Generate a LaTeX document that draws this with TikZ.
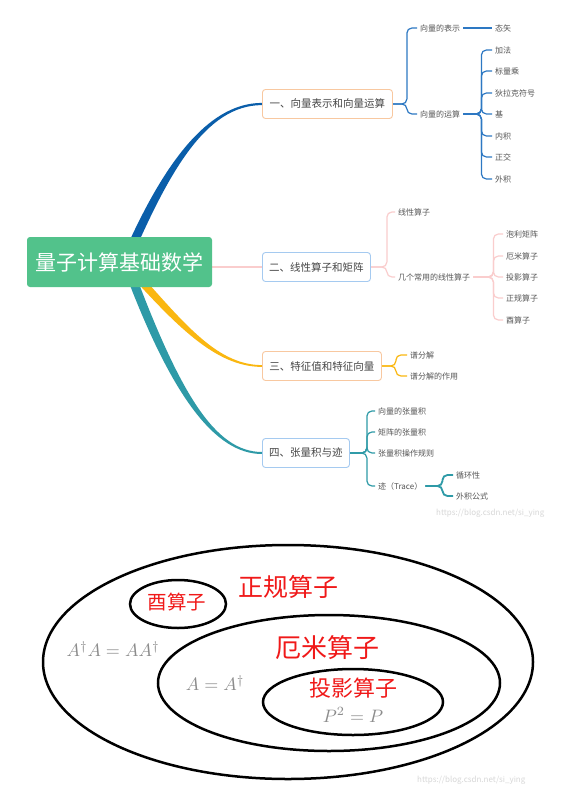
\documentclass[tikz,border=0pt]{standalone}
\usepackage{fontspec}
\setmainfont{Noto Sans CJK SC}
\usetikzlibrary{calc}
\pgfdeclarelayer{bg}
\pgfsetlayers{bg,main}

\definecolor{rootgreen}{RGB}{82,194,139}
\definecolor{mainblue}{RGB}{10,94,170}
\definecolor{subblue}{RGB}{45,120,195}
\definecolor{mainpink}{RGB}{250,205,205}
\definecolor{mainyellow}{RGB}{250,183,16}
\definecolor{mainteal}{RGB}{46,154,167}
\definecolor{peach}{RGB}{248,200,160}
\definecolor{paleblue}{RGB}{165,202,240}
\definecolor{labelgray}{RGB}{70,70,70}
\definecolor{leafgray}{RGB}{85,85,85}
\definecolor{mathgray}{RGB}{140,140,140}
\definecolor{venred}{RGB}{240,25,25}
\definecolor{wmgray}{RGB}{215,215,215}

% tapered main branch: colour, start, control 1, control 2, end, start half-width, end half-width
\newcommand\taperbranch[7]{%
  \fill[#1] ($(#2)!#6!90:(#3)$)
    .. controls ($(#3)!#6!-90:(#2)$) and ($(#4)!#7!90:(#5)$) .. ($(#5)!#7!-90:(#4)$)
    -- ($(#5)!#7!90:(#4)$)
    .. controls ($(#4)!#7!-90:(#5)$) and ($(#3)!#6!90:(#2)$) .. ($(#2)!#6!-90:(#3)$)
    -- cycle;}

\tikzset{
  rootbox/.style={fill=rootgreen, rounded corners=3pt, text=white,
    font=\fontsize{21}{24}\selectfont, minimum width=185pt, minimum height=50pt, inner sep=0pt},
  topic/.style={draw=#1, fill=white, rounded corners=3pt, line width=0.9pt,
    font=\fontsize{10.5}{12}\selectfont, text=labelgray, minimum height=29pt,
    inner xsep=6pt, anchor=west},
  leaf/.style={font=\fontsize{8}{9}\selectfont, text=leafgray, inner xsep=3pt, inner ysep=2pt, anchor=west},
  sub/.style={line width=1.2pt, rounded corners=5pt},
  venn/.style={line width=2.5pt, black},
  redlabel/.style={text=venred},
  mathlabel/.style={text=mathgray, scale=1.8},
  watermark/.style={text=wmgray, font=\fontsize{8}{9}\selectfont, anchor=west, inner sep=0pt}
}

\begin{document}
\begin{tikzpicture}[x=1pt, y=-1pt]
\begin{pgfonlayer}{bg}
  \fill[white] (0,0) rectangle (566,789);
\end{pgfonlayer}
\useasboundingbox (0,0) rectangle (566,789);

% ---------- mind map ----------
\node[rootbox] (root) at (119.5,262) {量子计算基础数学};

\node[topic=peach, minimum width=130pt] (b1) at (262,104) {一、向量表示和向量运算};
\node[topic=paleblue, minimum width=108pt] (b2) at (262,267) {二、线性算子和矩阵};
\node[topic=peach, minimum width=119pt] (b3) at (262,366) {三、特征值和特征向量};
\node[topic=paleblue, minimum width=87pt] (b4) at (262,453) {四、张量积与迹};

\coordinate (o1) at (125,262);
\coordinate (o3) at (124,262);
\coordinate (o4) at (126,262);

% branch 1 leaves
\node[leaf] (v1) at (417,28) {向量的表示};
\node[leaf] (v2) at (417,114) {向量的运算};
\node[leaf] (v11) at (492,28) {态矢};
\node[leaf] (v21) at (492,50) {加法};
\node[leaf] (v22) at (492,71) {标量乘};
\node[leaf] (v23) at (492,93) {狄拉克符号};
\node[leaf] (v24) at (492,114) {基};
\node[leaf] (v25) at (492,136) {内积};
\node[leaf] (v26) at (492,157) {正交};
\node[leaf] (v27) at (492,179) {外积};

% branch 2 leaves
\node[leaf] (l1) at (395,212) {线性算子};
\node[leaf] (l2) at (395,277) {几个常用的线性算子};
\node[leaf] (l21) at (503,234) {泡利矩阵};
\node[leaf] (l22) at (503,256) {厄米算子};
\node[leaf] (l23) at (503,277) {投影算子};
\node[leaf] (l24) at (503,298) {正规算子};
\node[leaf] (l25) at (503,320) {酉算子};

% branch 3 leaves
\node[leaf] (e1) at (407,355) {谱分解};
\node[leaf] (e2) at (407,376) {谱分解的作用};

% branch 4 leaves
\node[leaf] (t1) at (375,411) {向量的张量积};
\node[leaf] (t2) at (375,432) {矩阵的张量积};
\node[leaf] (t3) at (375,453) {张量积操作规则};
\node[leaf] (t4) at (375,486) {迹（Trace）};
\node[leaf] (t41) at (453,475) {循环性};
\node[leaf] (t42) at (453,496) {外积公式};

\begin{pgfonlayer}{bg}
  \taperbranch{mainblue}{o1}{164,172}{205,104}{b1.west}{4.5pt}{1.1pt}
  \taperbranch{mainyellow}{o3}{178,322}{215,366}{b3.west}{4pt}{0.9pt}
  \taperbranch{mainteal}{o4}{175,395}{215,453}{b4.west}{4.5pt}{1pt}
  \draw[mainpink, line width=1.6pt] (root.center |- b2.west) -- (b2.west);

  \foreach \c in {v1,v2} \draw[subblue, sub] (b1.east) -- ++(14,0) |- (\c.west);
  \draw[subblue, sub] (v1.east) -- (v11.west);
  \foreach \c in {v21,v22,v23,v24,v25,v26,v27} \draw[subblue, sub] (v2.east) -- ++(18,0) |- (\c.west);

  \foreach \c in {l1,l2} \draw[mainpink, sub] (b2.east) -- ++(16,0) |- (\c.west);
  \foreach \c in {l21,l22,l23,l24,l25} \draw[mainpink, sub] (l2.east) -- ++(20,0) |- (\c.west);

  \foreach \c in {e1,e2} \draw[mainyellow, sub] (b3.east) -- ++(14,0) |- (\c.west);

  \foreach \c in {t1,t2,t3,t4} \draw[mainteal, sub] (b4.east) -- ++(17,0) |- (\c.west);
  \foreach \c in {t41,t42} \draw[mainteal, sub, line width=1.8pt] (t4.east) -- ++(17,0) |- (\c.west);
\end{pgfonlayer}

\node[watermark] (wm1) at (436,513) {https://blog.csdn.net/si\_ying};

% ---------- operator classes ----------
\draw[venn] (288,662) ellipse [x radius=245pt, y radius=117pt];
\draw[venn] (329,683) ellipse [x radius=171pt, y radius=68pt];
\draw[venn] (353,702) ellipse [x radius=90pt, y radius=33pt];
\draw[venn] (178,604) ellipse [x radius=48pt, y radius=24pt];

\node[redlabel, font=\fontsize{25}{28}\selectfont] (normal) at (288,587) {正规算子};
\node[redlabel, font=\fontsize{19.5}{22}\selectfont] (unitary) at (177,602) {酉算子};
\node[redlabel, font=\fontsize{26}{29}\selectfont] (hermit) at (327,648) {厄米算子};
\node[redlabel, font=\fontsize{22}{25}\selectfont] (proj) at (353,688) {投影算子};

\node[mathlabel] (mnormal) at (113,649) {$A^\dagger A = AA^\dagger$};
\node[mathlabel] (mhermit) at (215,683) {$A = A^\dagger$};
\node[mathlabel] (mproj) at (353,715) {$P^2 = P$};

\node[watermark] (wm2) at (417,780) {https://blog.csdn.net/si\_ying};
\end{tikzpicture}
\end{document}
